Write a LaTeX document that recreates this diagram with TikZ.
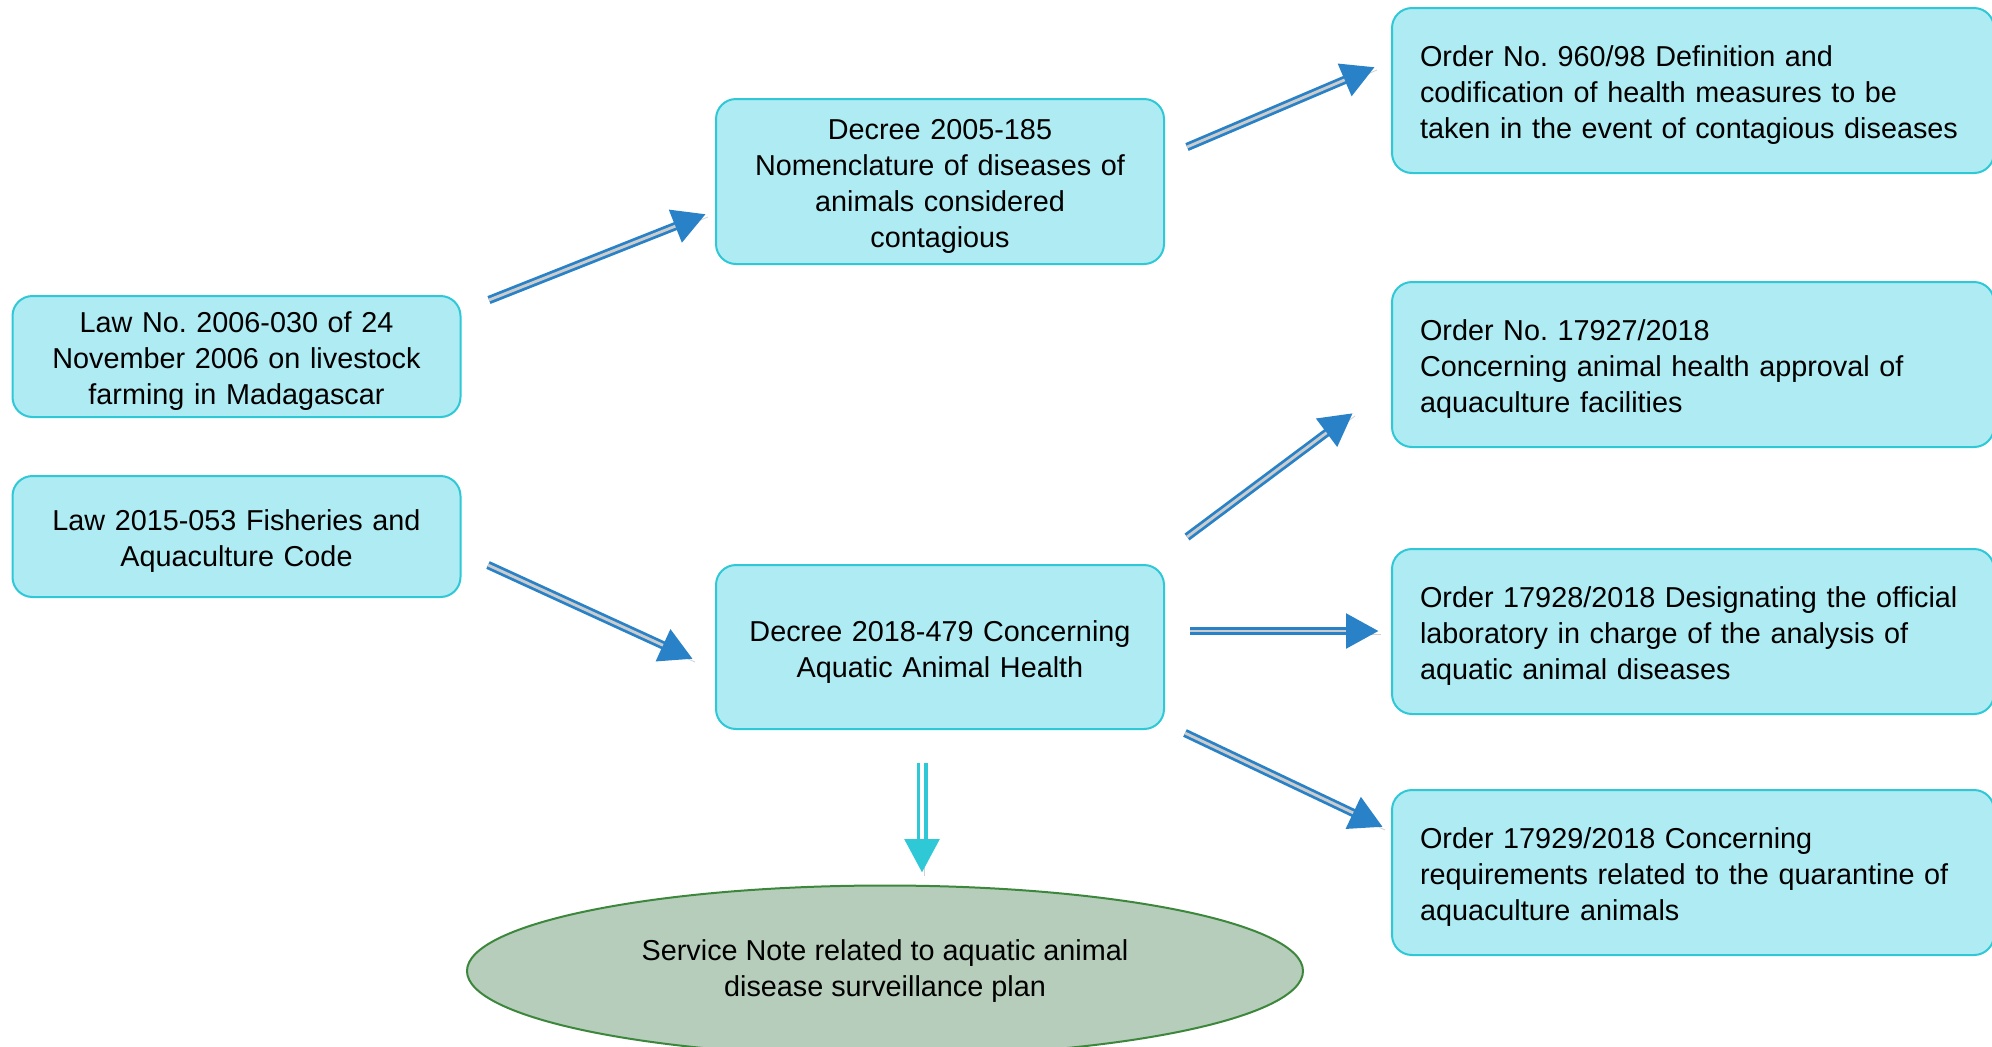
\documentclass[tikz,border=0pt]{standalone}
\usepackage{fontspec}
\setmainfont{Liberation Sans}
\usetikzlibrary{arrows.meta,shapes.geometric}
\definecolor{boxfill}{RGB}{175,235,242}
\definecolor{boxline}{RGB}{46,200,214}
\definecolor{arrblue}{RGB}{41,130,200}
\definecolor{arrgrey}{RGB}{204,204,204}
\definecolor{ellfill}{RGB}{181,205,186}
\definecolor{ellline}{RGB}{60,135,60}
\frenchspacing
\begin{document}
\begin{tikzpicture}[x=0.5pt,y=-0.5pt,
  font=\fontsize{14.4pt}{18pt}\selectfont,
  txtdown/.style={execute at begin node={\rule{0pt}{15.3pt}}},
  box/.style={draw=boxline, fill=boxfill, line width=1pt, rounded corners=10pt, inner sep=0pt, txtdown},
  cbox/.style={box, align=center, minimum width=224pt, text width=215pt},
  obox/.style={box, align=left, minimum width=301pt, minimum height=82.5pt, text width=273pt, inner xsep=14pt},
  shadowed/.style={preaction={draw=black, draw opacity=0.18, arrows=-, transform canvas={shift={(1pt,-1.5pt)}}}},
  arr/.style={draw=arrblue, line width=4.2pt, -{Triangle[length=16.5pt,width=16.5pt]}, shadowed,
    postaction={draw=arrgrey, line width=1.4pt, arrows=-, shorten >=16.5pt}},
  carr/.style={draw=boxline, line width=5.5pt, -{Triangle[length=17pt,width=16.5pt]}, shadowed,
    postaction={draw=white, line width=1.7pt, arrows=-, shorten >=17pt}},
  ell/.style={ellipse, draw=ellline, fill=ellfill, line width=1pt, align=center, minimum width=418pt, minimum height=85.5pt, inner sep=0pt, txtdown}
]
\useasboundingbox (0,0) rectangle (1992,1046);

\node[cbox, minimum height=60.5pt] (lawA) at (236.5,356.5) {Law No. 2006-030 of 24\\November 2006 on livestock\\farming in Madagascar};
\node[cbox, minimum height=60.5pt] (lawB) at (236.5,536.5) {Law 2015-053 Fisheries and\\Aquaculture Code};
\node[cbox, minimum height=82.5pt] (decA) at (940,181.5) {Decree 2005-185\\Nomenclature of diseases of\\animals considered\\contagious};
\node[cbox, minimum height=82pt] (decB) at (940,647) {Decree 2018-479 Concerning\\Aquatic Animal Health};

\node[obox] (ord1) at (1693,90.5) {Order No. 960/98 Definition and\\codification of health measures to be\\taken in the event of contagious diseases};
\node[obox] (ord2) at (1693,364.5) {Order No. 17927/2018\\Concerning animal health approval of\\aquaculture facilities};
\node[obox] (ord3) at (1693,631.5) {Order 17928/2018 Designating the official\\laboratory in charge of the analysis of\\aquatic animal diseases};
\node[obox] (ord4) at (1693,872.5) {Order 17929/2018 Concerning\\requirements related to the quarantine of\\aquaculture animals};

\node[ell] (note) at (885,971) {Service Note related to aquatic animal\\disease surveillance plan};

\coordinate (a1s) at (489,300);  \coordinate (a1e) at (706,214);
\coordinate (a2s) at (488,565);  \coordinate (a2e) at (693,659);
\coordinate (a3s) at (1187,147); \coordinate (a3e) at (1375,67);
\coordinate (a4s) at (1187,537); \coordinate (a4e) at (1353,413);
\coordinate (a5s) at (1190,631); \coordinate (a5e) at (1379,631);
\coordinate (a6s) at (1185,733); \coordinate (a6e) at (1383,827);
\coordinate (a7s) at (922,763);  \coordinate (a7e) at (922,873);

\draw[arr] (a1s) -- (a1e);
\draw[arr] (a2s) -- (a2e);
\draw[arr] (a3s) -- (a3e);
\draw[arr] (a4s) -- (a4e);
\draw[arr] (a5s) -- (a5e);
\draw[arr] (a6s) -- (a6e);
\draw[carr] (a7s) -- (a7e);
\end{tikzpicture}
\end{document}
